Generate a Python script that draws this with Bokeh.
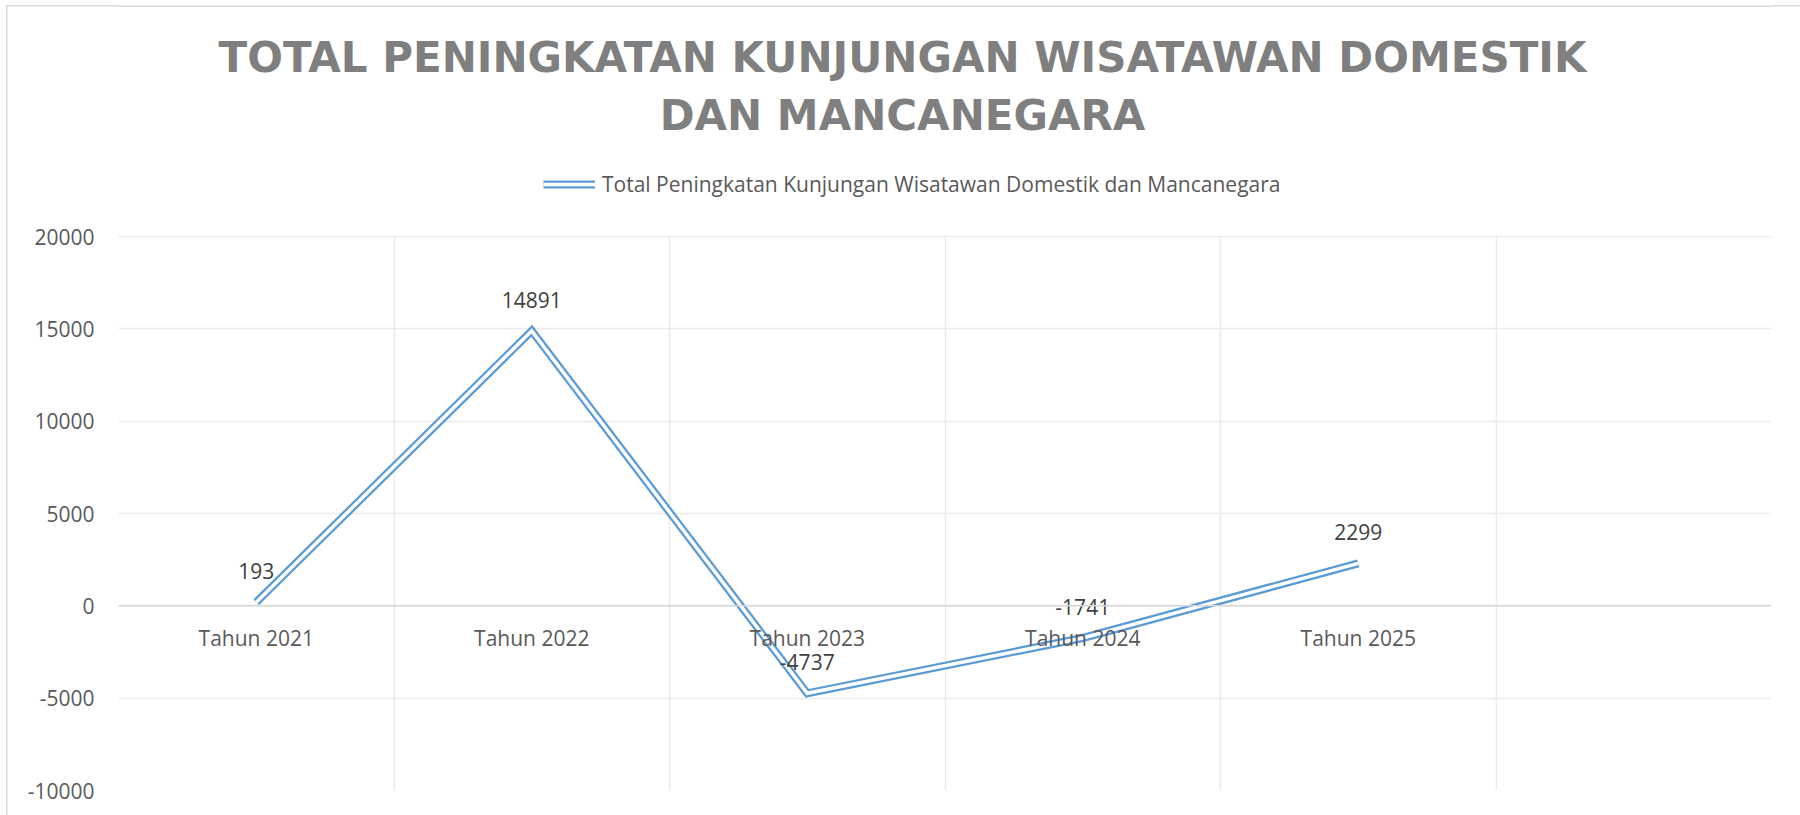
from bokeh.plotting import figure
from bokeh.models import (FixedTicker, Grid, Label, Legend, LegendItem, Span,
                          BoxAnnotation, ColumnDataSource, NumeralTickFormatter,
                          Range1d)
from bokeh.core.properties import value
from bokeh.embed import file_html
from bokeh.resources import INLINE

# ---- data ----
categories = ["Tahun 2021", "Tahun 2022", "Tahun 2023", "Tahun 2024", "Tahun 2025"]
values = [193, 14891, -4737, -1741, 2299]
y_ticks = [-10000, -5000, 0, 5000, 10000, 15000, 20000]
n_slots = 6  # the category axis has one extra empty slot
series_name = "Total Peningkatan Kunjungan Wisatawan Domestik dan Mancanegara"
title_lines = ["TOTAL PENINGKATAN KUNJUNGAN WISATAWAN DOMESTIK", "DAN MANCANEGARA"]

xs = [i + 0.5 for i in range(len(categories))]
src = ColumnDataSource(dict(x=xs, y=values, cat=categories,
                            lbl=[str(v) for v in values],
                            zero=[0] * len(values)))

# ---- layout (pixels) ----
W, H = 1800, 815
frame_bottom = 790          # canvas y of the frame bottom (value -10000)
plot_top = 236              # canvas y of the value 20000
px_per_unit = (frame_bottom - plot_top) / (y_ticks[-1] - y_ticks[0])
# the frame reaches the top of the canvas so the title and legend are inside it
y_top = y_ticks[-1] + plot_top / px_per_unit

FONT = "Open Sans"
FS = "21px"

p = figure(width=W, height=H, output_backend="svg", toolbar_location=None,
           x_range=Range1d(0, n_slots), y_range=Range1d(y_ticks[0], y_top),
           x_axis_location=None, title=None,
           min_border_left=118, min_border_right=29,
           min_border_top=0, min_border_bottom=H - frame_bottom)
p.outline_line_color = None
p.background_fill_alpha = 0
p.border_fill_alpha = 0
# light chart-area border on the left and top edges
p.styles = {"background-color": "white",
            "box-shadow": "inset 6px 5px 0 0 white, inset 7.5px 6.5px 0 0 #d9d9d9"}

# y axis
p.yaxis.ticker = FixedTicker(ticks=y_ticks)
p.yaxis.formatter = NumeralTickFormatter(format="0")
p.yaxis.axis_line_color = None
p.yaxis.major_tick_line_color = None
p.yaxis.minor_tick_line_color = None
p.yaxis.major_tick_out = 0
p.yaxis.major_tick_in = 0
p.yaxis.major_label_standoff = 24
p.yaxis.major_label_text_font = FONT
p.yaxis.major_label_text_font_size = FS
p.yaxis.major_label_text_color = "#595959"

p.ygrid.ticker = FixedTicker(ticks=y_ticks)
p.ygrid.grid_line_color = "#ebebeb"
p.ygrid.grid_line_width = 1.5
p.add_layout(Grid(dimension=0, ticker=FixedTicker(ticks=list(range(n_slots + 1))),
                  grid_line_color="#ebebeb", grid_line_width=1.5))
# keep the vertical grid inside the plot area (white above the 20000 line)
p.add_layout(BoxAnnotation(left=0, right=n_slots,
                           bottom=y_ticks[-1] + 1.2 / px_per_unit, top=y_top,
                           fill_color="white", fill_alpha=1, line_color=None,
                           level="guide"))
# top edge of the chart-area border inside the frame region
p.add_layout(Span(location=y_top - 5.75 / px_per_unit, dimension="width",
                  line_color="#d9d9d9", line_width=1.5))
p.add_layout(Span(location=0, dimension="width", line_color="#d6d6d6", line_width=1.5))

# double line: thick blue + thin white core
r_blue = p.line("x", "y", source=src, line_color="#5b9bd5", line_width=8,
                line_join="miter")
r_white = p.line("x", "y", source=src, line_color="white", line_width=3.5,
                 line_join="miter")

# data labels
p.text("x", "y", text="lbl", source=src, y_offset=-31,
       text_align="center", text_baseline="middle",
       text_font=value(FONT), text_font_size=FS, text_color="#404040")
# category labels (axis crosses at 0)
p.text("x", "zero", text="cat", source=src, y_offset=32,
       text_align="center", text_baseline="middle",
       text_font=value(FONT), text_font_size=FS, text_color="#595959")

# legend
legend = Legend(items=[LegendItem(label=series_name, renderers=[r_blue, r_white])],
                location=(425, frame_bottom - 198), orientation="horizontal",
                glyph_width=52, glyph_height=20, label_standoff=7,
                padding=0, margin=0, border_line_color=None,
                background_fill_alpha=0,
                label_text_font=FONT, label_text_font_size=FS,
                label_text_color="#595959")
p.add_layout(legend, "center")

# title (two centred lines)
for line, base in zip(title_lines, [57, 115]):
    p.add_layout(Label(x=902 - 118, y=frame_bottom - base,
                       x_units="screen", y_units="screen",
                       text=line, text_align="center", text_baseline="alphabetic",
                       text_font="DejaVu Sans", text_font_style="bold",
                       text_font_size="42px", text_color="#7f7f7f"))

open("out.html", "w").write(file_html(p, INLINE))
